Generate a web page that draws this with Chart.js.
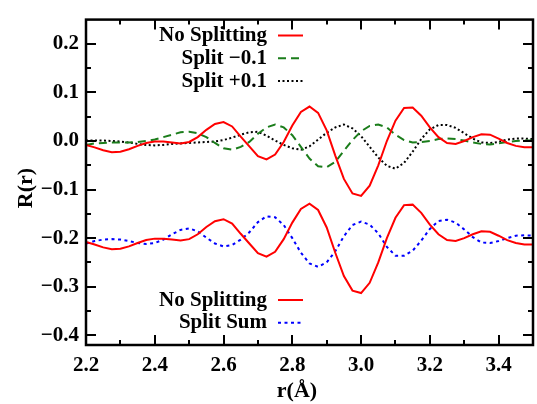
<!DOCTYPE html>
<html>
<head>
<meta charset="utf-8">
<title>R(r)</title>
<script src="https://cdn.jsdelivr.net/npm/chart.js@4.4.1/dist/chart.umd.min.js"></script>
<style>
  html, body { margin: 0; padding: 0; background: #fff; }
  #wrap { width: 537px; height: 404px; }
</style>
</head>
<body>
<div id="wrap"><canvas id="rChart" width="537" height="404"></canvas></div>
<script>
// ===== Data =====
const rValues = [
  2.2, 2.225, 2.25, 2.275, 2.3, 2.325, 2.35, 2.375, 2.4, 2.425, 2.45, 2.475, 2.5,
  2.525, 2.55, 2.575, 2.6, 2.625, 2.65, 2.675, 2.7, 2.725, 2.75, 2.775, 2.8,
  2.825, 2.85, 2.875, 2.9, 2.925, 2.95, 2.975, 3.0, 3.025, 3.05, 3.075, 3.1,
  3.125, 3.15, 3.175, 3.2, 3.225, 3.25, 3.275, 3.3, 3.325, 3.35, 3.375, 3.4, 3.425, 3.45, 3.475, 3.5
];

// upper panel
const noSplit = [
  -0.008, -0.013, -0.019, -0.023, -0.022, -0.017, -0.010, -0.004, -0.001, -0.001, -0.003, -0.005, -0.002,
  0.008, 0.023, 0.035, 0.039, 0.030, 0.009, -0.011, -0.031, -0.038, -0.028, -0.002, 0.032,
  0.060, 0.071, 0.058, 0.022, -0.030, -0.078, -0.108, -0.113, -0.092, -0.050, 0.000, 0.042,
  0.068, 0.069, 0.052, 0.028, 0.008, -0.004, -0.006, 0.000, 0.008, 0.014, 0.013, 0.005, -0.004, -0.010, -0.013, -0.013
];
const splitMinus = [
  -0.008, -0.005, -0.004, -0.003, -0.003, -0.003, -0.002, 0.000, 0.003, 0.008, 0.013, 0.018, 0.019,
  0.016, 0.008, -0.004, -0.015, -0.018, -0.012, -0.002, 0.015, 0.028, 0.034, 0.028, 0.012,
  -0.012, -0.036, -0.052, -0.054, -0.043, -0.020, 0.002, 0.020, 0.031, 0.034, 0.028, 0.013,
  0.002, -0.003, -0.002, 0.000, 0.004, 0.005, 0.004, 0.001, -0.003, -0.006, -0.007, -0.005, -0.002, 0.000, 0.001, 0.001
];
const splitPlus = [
  0.001, 0.001, 0.001, 0.000, -0.001, -0.003, -0.006, -0.008, -0.009, -0.008, -0.006, -0.005, -0.004,
  -0.003, -0.002, -0.001, 0.002, 0.007, 0.013, 0.018, 0.019, 0.011, 0.001, -0.008, -0.015,
  -0.018, -0.011, 0.003, 0.017, 0.028, 0.034, 0.026, 0.010, -0.012, -0.034, -0.051, -0.057,
  -0.045, -0.022, 0.004, 0.024, 0.033, 0.033, 0.027, 0.016, 0.005, -0.003, -0.004, -0.002, 0.003, 0.005, 0.005, 0.004
];

// lower panel (shifted by -0.2)
const noSplitLow = [
  -0.208, -0.213, -0.219, -0.223, -0.222, -0.217, -0.210, -0.204, -0.201, -0.201, -0.203, -0.205, -0.202,
  -0.192, -0.177, -0.165, -0.161, -0.170, -0.191, -0.211, -0.231, -0.238, -0.228, -0.202, -0.168,
  -0.140, -0.129, -0.142, -0.178, -0.230, -0.278, -0.308, -0.313, -0.292, -0.250, -0.200, -0.158,
  -0.132, -0.131, -0.148, -0.172, -0.192, -0.204, -0.206, -0.200, -0.192, -0.186, -0.187, -0.195, -0.204, -0.210, -0.213, -0.213
];
const splitSum = [
  -0.211, -0.206, -0.203, -0.202, -0.203, -0.206, -0.210, -0.212, -0.210, -0.203, -0.192, -0.183, -0.180,
  -0.186, -0.199, -0.211, -0.217, -0.214, -0.203, -0.188, -0.167, -0.155, -0.157, -0.173, -0.200,
  -0.230, -0.252, -0.259, -0.250, -0.227, -0.196, -0.173, -0.166, -0.172, -0.190, -0.218, -0.236,
  -0.236, -0.226, -0.205, -0.181, -0.165, -0.162, -0.168, -0.182, -0.198, -0.209, -0.210, -0.206, -0.200, -0.195, -0.194, -0.195
];

// axis ticks
const xTicks = [2.2, 2.4, 2.6, 2.8, 3.0, 3.2, 3.4];
const xMinor = [2.3, 2.5, 2.7, 2.9, 3.1, 3.3];
const yTicks = [-0.4, -0.3, -0.2, -0.1, 0.0, 0.1, 0.2];
const yMinor = [-0.35, -0.25, -0.15, -0.05, 0.05, 0.15];

// legend groups (dataset indices)
const upperLegend = [0, 1, 2];
const lowerLegend = [3, 4];

const FONT = '"Liberation Serif", "Times New Roman", serif';

const toPoints = (vals) => rValues.map((r, i) => ({ x: r, y: vals[i] }));
const fmt = (v) => {
    if (Math.abs(v) < 1e-9) return '0.0';
    const s = Math.abs(v).toFixed(1);
    return v < 0 ? '\u2212' + s : s;
};

// ===== Frame, inward ticks, titles and legends =====
const framePlugin = {
    id: 'frame',
    afterDraw(chart) {
        const { ctx, chartArea: a, scales } = chart;
        const xs = scales.x, ys = scales.y;
        ctx.save();
        ctx.strokeStyle = '#000';

        // ticks
        ctx.lineWidth = 2;
        ctx.beginPath();
        const xTick = (v, len) => {
            const px = Math.round(xs.getPixelForValue(v));
            ctx.moveTo(px, a.bottom); ctx.lineTo(px, a.bottom - len);
            ctx.moveTo(px, a.top); ctx.lineTo(px, a.top + len);
        };
        const yTick = (v, len) => {
            const py = Math.round(ys.getPixelForValue(v));
            ctx.moveTo(a.left, py); ctx.lineTo(a.left + len, py);
            ctx.moveTo(a.right, py); ctx.lineTo(a.right - len, py);
        };
        xTicks.forEach(v => xTick(v, 10));
        xMinor.forEach(v => xTick(v, 5));
        yTicks.forEach(v => yTick(v, 10));
        yMinor.forEach(v => yTick(v, 5));
        ctx.stroke();

        // frame
        ctx.lineWidth = 2.5;
        ctx.strokeRect(a.left, a.top, a.right - a.left, a.bottom - a.top);

        // axis titles
        ctx.fillStyle = '#000';
        ctx.font = 'bold 22px ' + FONT;
        ctx.textAlign = 'center';
        ctx.textBaseline = 'alphabetic';
        ctx.fillText('r(\u00C5)', 297, 397);
        ctx.save();
        ctx.translate(32, 188);
        ctx.rotate(-Math.PI / 2);
        ctx.fillText('R(r)', 0, 0);
        ctx.restore();

        // legends
        const drawLegend = (indices, firstBaseline) => {
            indices.forEach((idx, k) => {
                const ds = chart.data.datasets[idx];
                const base = firstBaseline + k * 22.8;
                ctx.font = 'bold 21px ' + FONT;
                ctx.textAlign = 'right';
                ctx.fillStyle = '#000';
                ctx.fillText(ds.label, 267, base);
                ctx.beginPath();
                ctx.strokeStyle = ds.borderColor;
                ctx.lineWidth = ds.borderWidth;
                ctx.setLineDash(ds.borderDash || []);
                ctx.moveTo(278, base - 5.5);
                ctx.lineTo(303, base - 5.5);
                ctx.stroke();
                ctx.setLineDash([]);
            });
        };
        drawLegend(upperLegend, 41);
        drawLegend(lowerLegend, 305.5);
        ctx.restore();
    }
};

const common = { pointRadius: 0, tension: 0, fill: false, borderWidth: 2 };

const ctx = document.getElementById('rChart').getContext('2d');
new Chart(ctx, {
    type: 'line',
    data: {
        datasets: [
            { ...common, label: 'No Splitting', data: toPoints(noSplit), borderColor: '#ff0000' },
            { ...common, label: 'Split \u22120.1', data: toPoints(splitMinus), borderColor: '#1b7d1b', borderDash: [8, 5] },
            { ...common, label: 'Split +0.1', data: toPoints(splitPlus), borderColor: '#000000', borderDash: [2, 2.5] },
            { ...common, label: 'No Splitting', data: toPoints(noSplitLow), borderColor: '#ff0000' },
            { ...common, label: 'Split Sum', data: toPoints(splitSum), borderColor: '#0000ff', borderDash: [3, 3.5] }
        ]
    },
    options: {
        responsive: false,
        animation: false,
        layout: { padding: { top: 13, right: 4, left: 0, bottom: 0 } },
        plugins: {
            legend: { display: false },
            tooltip: { enabled: false }
        },
        scales: {
            x: {
                type: 'linear',
                min: 2.2,
                max: 3.5,
                grid: { display: false, drawTicks: false },
                border: { display: false },
                afterBuildTicks: (s) => { s.ticks = xTicks.map(v => ({ value: v })); },
                afterFit: (s) => { s.height = 59; },
                ticks: {
                    color: '#000',
                    font: { family: FONT, size: 21, weight: 'bold' },
                    padding: 8,
                    autoSkip: false,
                    maxRotation: 0,
                    callback: (v) => v.toFixed(1)
                }
            },
            y: {
                type: 'linear',
                min: -0.42,
                max: 0.25,
                grid: { display: false, drawTicks: false },
                border: { display: false },
                afterBuildTicks: (s) => { s.ticks = yTicks.map(v => ({ value: v })); },
                afterFit: (s) => { s.width = 86; },
                ticks: {
                    color: '#000',
                    font: { family: FONT, size: 21, weight: 'bold' },
                    padding: 7,
                    callback: (v) => fmt(v)
                }
            }
        }
    },
    plugins: [framePlugin]
});
</script>
</body>
</html>
